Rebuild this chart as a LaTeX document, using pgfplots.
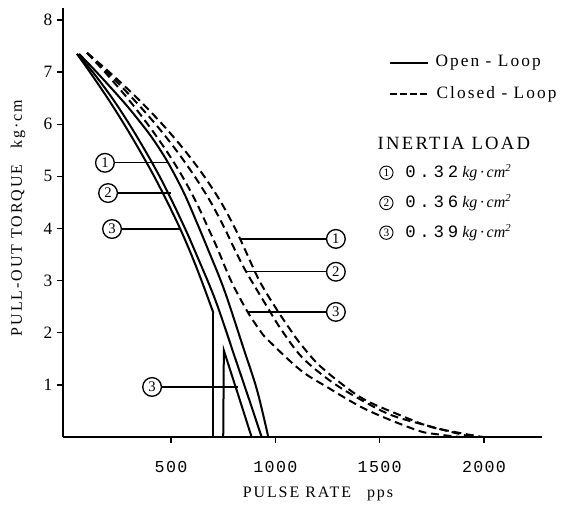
\documentclass[border=0pt]{standalone}
\usepackage{pgfplots}
\pgfplotsset{compat=1.18}
\usepackage{fontspec}
\setmainfont{Liberation Serif}
\newfontfamily\spaced{Liberation Serif}[LetterSpace=12]
\newfontfamily\mono{Liberation Mono}[LetterSpace=8]
\newfontfamily\monowide{Liberation Mono}[LetterSpace=22]
\tikzset{
  circ/.style={draw, circle, line width=1pt, minimum size=14pt, inner sep=0pt, font=\fontsize{11}{11}\selectfont},
  scirc/.style={draw, circle, line width=0.7pt, minimum size=10pt, inner sep=0pt, font=\fontsize{8.5}{8.5}\selectfont},
  sol/.style={black, line width=1.5pt, smooth, tension=0.55},
  das/.style={black, line width=1.5pt, smooth, tension=0.55, dash pattern=on 6pt off 3.5pt},
}
\begin{document}
\begin{tikzpicture}
\useasboundingbox (-47.25pt,-55.5pt) rectangle (375.75pt,327.75pt);
\begin{axis}[
  at={(0,0)}, anchor=south west,
  scale only axis, width=359.25pt, height=321.75pt,
  xmin=-18, xmax=2278, ymin=0, ymax=8.23,
  axis x line*=bottom, axis y line*=left,
  axis line style={line width=1.1pt},
  xtick={500,1000,1500,2000}, ytick={1,2,...,8},
  tick align=outside, major tick length=4.5pt,
  tick style={line width=1.1pt, black},
  /pgf/number format/assume math mode=true,
  /pgf/number format/1000 sep={},
  scaled x ticks=false,
  xticklabel style={font=\mono\fontsize{12.5}{12.5}\selectfont, yshift=-10pt},
  yticklabel style={font=\fontsize{13}{13}\selectfont},
  clip=false,
]
% Open loop, 0.39
\addplot[sol] coordinates {(49,7.35) (111,7.0) (196,6.5) (275,6.0) (349,5.5) (419,5.0) (483,4.5) (543,4.0) (597,3.5) (646,3.0) (703,2.38)};
\addplot[black, line width=1.5pt] coordinates {(703,2.38) (703,0)};
\addplot[black, line width=1.5pt] coordinates {(750,0) (753,1.66) (820,0.83) (886,0)};
% Open loop, 0.36
\addplot[sol] coordinates {(49,7.35) (125,7.0) (218,6.5) (300,6.0) (375,5.5) (445,5.0) (508,4.5) (567,4.0) (612,3.59) (712,2.63) (810,1.48) (875,0.71) (934,0)};
% Open loop, 0.32
\addplot[sol] coordinates {(59,7.35) (143,7.0) (272,6.43) (360,6.0) (416,5.70) (486,5.26) (562,4.68) (624,4.11) (678,3.59) (755,2.82) (845,1.73) (912,0.90) (966,0)};
% Closed loop, 0.32
\addplot[das] coordinates {(97,7.37) (204,7.0) (338,6.5) (458,6.0) (565,5.5) (659,5.0) (740,4.5) (807,4.0) (855,3.59) (923,3.0) (998,2.5) (1073,2.05) (1118,1.80) (1204,1.4) (1324,1.0) (1435,0.7) (1597,0.42) (1740,0.2) (1880,0.08) (1995,0)};
% Closed loop, 0.36
\addplot[das] coordinates {(97,7.37) (194,7.0) (315,6.5) (426,6.0) (525,5.5) (613,5.0) (691,4.5) (757,4.0) (806,3.59) (860,3.17) (960,2.5) (1030,2.05) (1130,1.52) (1276,1.04) (1439,0.65) (1569,0.4) (1755,0.19) (1860,0.08) (1947,0)};
% Closed loop, 0.39
\addplot[das] coordinates {(97,7.37) (183,7.0) (291,6.5) (388,6.0) (476,5.5) (554,5.0) (621,4.5) (679,4.0) (725,3.59) (787,3.0) (864,2.42) (925,2.05) (965,1.86) (1118,1.29) (1247,0.96) (1439,0.52) (1679,0.13) (1780,0.05) (1884,0)};

% left labels
\node[circ] (L1) at (axis cs:183,5.26) {1};
\draw[line width=1pt] (L1.east) -- (axis cs:490,5.26);
\node[circ] (L2) at (axis cs:198,4.68) {2};
\draw[line width=1pt] (L2.east) -- (axis cs:500,4.68);
\node[circ] (L3) at (axis cs:217,3.99) {3};
\draw[line width=1pt] (L3.east) -- (axis cs:546,3.99);
\node[circ] (L4) at (axis cs:409,0.96) {3};
\draw[line width=1pt] (L4.east) -- (axis cs:820,0.96);
% right labels
\node[circ] (R1) at (axis cs:1290,3.80) {1};
\draw[line width=1pt] (axis cs:831,3.80) -- (R1.west);
\node[circ] (R2) at (axis cs:1290,3.17) {2};
\draw[line width=1pt] (axis cs:860,3.17) -- (R2.west);
\node[circ] (R3) at (axis cs:1290,2.40) {3};
\draw[line width=1pt] (axis cs:864,2.40) -- (R3.west);

% legend
\draw[line width=1.2pt] (axis cs:1549,7.18) -- (axis cs:1731,7.18);
\node[anchor=west, font=\spaced\fontsize{13}{13}\selectfont] at (axis cs:1745,7.18) {Open - Loop};
\draw[line width=1.2pt, dash pattern=on 5pt off 2.5pt] (axis cs:1549,6.58) -- (axis cs:1740,6.58);
\node[anchor=west, font=\spaced\fontsize{13}{13}\selectfont] at (axis cs:1750,6.58) {Closed - Loop};
\node[font=\spaced\fontsize{14}{14}\selectfont] at (axis cs:1856,5.64) {INERTIA LOAD};
\node[scirc] at (axis cs:1532,5.07) {1};
\node[anchor=west, font=\monowide\fontsize{13}{13}\selectfont] at (axis cs:1600,5.07) {0.32\hspace{3pt}{\rmfamily\itshape\fontsize{12}{12}\selectfont kg\,·\,cm\textsuperscript{2}}};
\node[scirc] at (axis cs:1532,4.49) {2};
\node[anchor=west, font=\monowide\fontsize{13}{13}\selectfont] at (axis cs:1600,4.49) {0.36\hspace{3pt}{\rmfamily\itshape\fontsize{12}{12}\selectfont kg\,·\,cm\textsuperscript{2}}};
\node[scirc] at (axis cs:1532,3.92) {3};
\node[anchor=west, font=\monowide\fontsize{13}{13}\selectfont] at (axis cs:1600,3.92) {0.39\hspace{3pt}{\rmfamily\itshape\fontsize{12}{12}\selectfont kg\,·\,cm\textsuperscript{2}}};

% axis labels
\node[rotate=90, font=\spaced\fontsize{12}{12}\selectfont] at (axis cs:-233,4.2) {PULL-OUT TORQUE\quad kg·cm};
\node[font=\spaced\fontsize{12}{12}\selectfont] at (axis cs:1204,-1.09) {PULSE RATE\quad pps};
\end{axis}
\end{tikzpicture}
\end{document}
